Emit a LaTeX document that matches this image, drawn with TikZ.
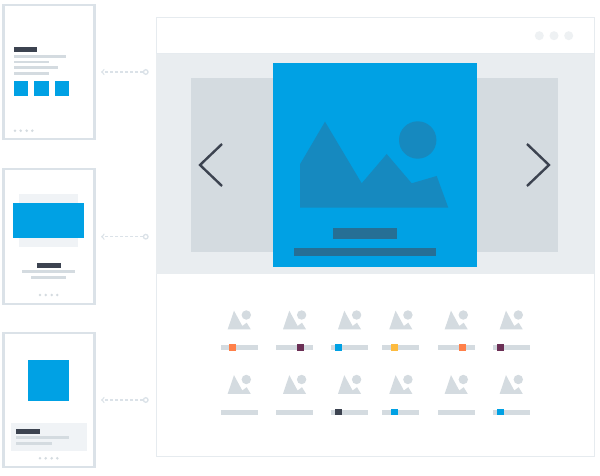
\documentclass[tikz,border=0pt]{standalone}
\usepackage{tikz}
\usetikzlibrary{positioning}
\definecolor{frame_c}{HTML}{DBE2E8}
\definecolor{edge_c}{HTML}{E6EBEF}
\definecolor{band_c}{HTML}{E9EDF0}
\definecolor{slide_c}{HTML}{D4DBE0}
\definecolor{pale_c}{HTML}{F0F3F6}
\definecolor{knob_c}{HTML}{EEF1F3}
\definecolor{blue_c}{HTML}{00A1E4}
\definecolor{shade_c}{HTML}{1689BF}
\definecolor{deep_c}{HTML}{266F95}
\definecolor{dark_c}{HTML}{3C4350}
\definecolor{orange_c}{HTML}{FF8049}
\definecolor{plum_c}{HTML}{6B2F55}
\definecolor{yellow_c}{HTML}{FDBB3F}
\tikzset{x=1pt, y=-1pt, >=to}
\tikzstyle{phone} = [draw=frame_c, line width=2.5pt, fill=white, rectangle, minimum width=90.7pt, inner sep=0, outer sep=0]
\tikzstyle{window} = [draw=edge_c, line width=1pt, fill=white, rectangle, minimum width=438pt, minimum height=438pt, inner sep=0, outer sep=0]
\tikzstyle{ring} = [draw=frame_c, line width=1.3pt, fill=white, circle, minimum size=4.6pt, inner sep=0, outer sep=0]
\tikzstyle{link} = [draw=frame_c, line width=1.3pt, dash pattern=on 3pt off 2pt]
\tikzstyle{pager} = [fill=slide_c, circle, minimum size=2.8pt, inner sep=0, outer sep=0]
\tikzstyle{light} = [fill=knob_c, circle, minimum size=9pt, inner sep=0, outer sep=0]
\tikzstyle{chevron} = [draw=dark_c, line width=2.4pt]
\begin{document}
\begin{tikzpicture}
			\useasboundingbox (0,0) rectangle (600,476);

			\node [phone, minimum height=134pt] (phone_a) at (49,72) {};
			\node [phone, minimum height=135pt] (phone_b) at (49,236.7) {};
			\node [phone, minimum height=134pt] (phone_c) at (49,400) {};

			\node [ring, right=49.1pt of phone_a] (ring_a) {};
			\node [ring, right=49.1pt of phone_b] (ring_b) {};
			\node [ring, right=49.1pt of phone_c] (ring_c) {};
			\coordinate [left=42.4pt of ring_a] (tip_a);
			\coordinate [left=42.4pt of ring_b] (tip_b);
			\coordinate [left=42.4pt of ring_c] (tip_c);

			\draw [link, ->] (ring_a) -- (tip_a);
			\draw [link, ->] (ring_b) -- (tip_b);
			\draw [link, ->] (ring_c) -- (tip_c);

			% first phone
			\fill [dark_c] (13.5,47.5) rectangle (37,52);
			\fill [slide_c] (13.5,55) rectangle (66,57.7);
			\fill [slide_c] (13.5,60.7) rectangle (49,63.3);
			\fill [slide_c] (13.5,66.5) rectangle (57.5,69.3);
			\fill [slide_c] (13.5,72.5) rectangle (49,75);
			\foreach \x in {13.5,34,54.7}
				\fill [blue_c] (\x,81) rectangle ++(14.7,14.7);
			\foreach \x in {15,20.7,26.7,32.3}
				\node [pager] at (\x,130.7) {};

			% second phone
			\fill [pale_c] (19.3,194) rectangle (78,246.7);
			\fill [blue_c] (13.3,202.7) rectangle (83.7,238);
			\fill [dark_c] (37,262.7) rectangle (60.7,267.7);
			\fill [slide_c] (22,270.3) rectangle (75,273.3);
			\fill [slide_c] (31,276) rectangle (66,279);
			\foreach \x in {40,45.7,51.7,57.3}
				\node [pager] at (\x,295) {};

			% third phone
			\fill [blue_c] (28,360) rectangle (69.3,401.3);
			\fill [pale_c] (10.7,423) rectangle (86.7,451);
			\fill [dark_c] (16.3,429) rectangle (40,433.7);
			\fill [slide_c] (16.3,436.3) rectangle (69,439.3);
			\fill [slide_c] (16.3,442) rectangle (51.7,445);
			\foreach \x in {40,45.7,51.7,57.3}
				\node [pager] at (\x,458.3) {};

			% window and slider
			\node [window] (window) at (375,237) {};
			\fill [band_c] (window.west |- 0,54) rectangle (window.east |- 0,274);
			\draw [edge_c, line width=1pt] (window.west |- 0,54) -- (window.east |- 0,54);
			\foreach \x in {539.3,554,568.7}
				\node [light] at (\x,35.7) {};

			\fill [slide_c] (191,78) rectangle (558,252);
			\fill [blue_c] (272.7,63.5) rectangle (476.7,266.7);
			\fill [shade_c] (300,207.7) -- (300,164.3) -- (325,121.7) -- (361.7,183.3) -- (386.7,154) -- (411.7,183.3) -- (436.7,176) -- (448.3,207.7) -- cycle;
			\fill [shade_c] (417.7,140) circle (18.7);
			\fill [deep_c] (333.3,228) rectangle (396.7,239.3);
			\fill [deep_c] (294,247.7) rectangle (436,255.7);

			\draw [chevron] (222,144) -- (200,165) -- (222,186);
			\draw [chevron] (527,144) -- (549,165) -- (527,186);

			% thumbnails
			\foreach \y in {0,64.5}
				\foreach \x in {220.7,276,331,382.3,437.7,492.7} {
					\begin{scope}[shift={(\x,\y)}]
						\fill [slide_c] (7,329.3) -- (13.3,310.7) -- (21.6,326) -- (26,322.7) -- (30,329.3) -- cycle;
						\fill [slide_c] (25.6,315) circle (4.7);
						\fill [slide_c] (0,345) rectangle (36.8,350);
					\end{scope}
				}

			\foreach \x/\y/\c in {232.7/347.5/orange_c, 300.3/347.5/plum_c, 338.7/347.5/blue_c, 394.3/347.5/yellow_c, 462.3/347.5/orange_c, 500.3/347.5/plum_c, 338.7/412/dark_c, 394.3/412/blue_c, 500.3/412/blue_c}
				\fill [\c] (\x-3.4,\y-3.4) rectangle (\x+3.4,\y+3.4);
		\end{tikzpicture}
\end{document}
